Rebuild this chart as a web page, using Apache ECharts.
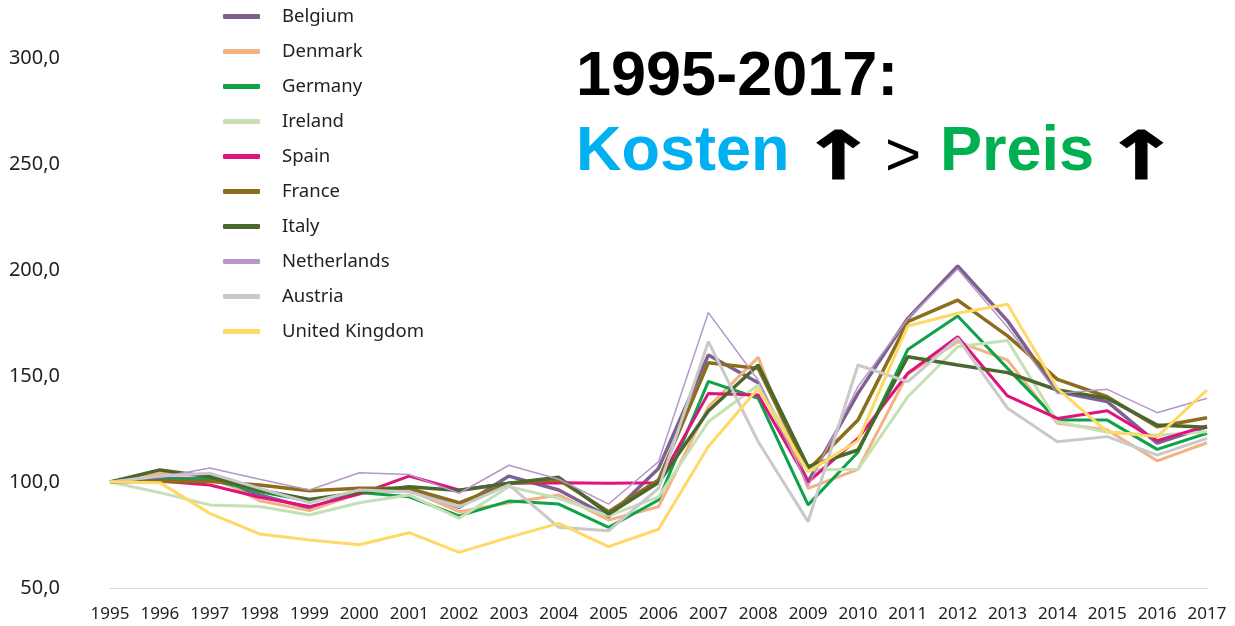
<!DOCTYPE html>
<html>
<head>
<meta charset="utf-8">
<script src="https://cdn.jsdelivr.net/npm/echarts@6/dist/echarts.min.js"></script>
<style>
html,body{margin:0;padding:0;background:#fff;}
#main{width:1235px;height:626px;}
</style>
</head>
<body>
<div id="main"></div>
<script>
const years = ['1995','1996','1997','1998','1999','2000','2001','2002','2003','2004','2005','2006','2007','2008','2009','2010','2011','2012','2013','2014','2015','2016','2017'];
const belgium     = [100, 101.7, 101.7, 93.9, 87.7, 95.5, 96.2, 88.0, 102.8, 96.2, 83.6, 106.4, 159.9, 146.8, 100.2, 141.8, 177.2, 201.9, 176.0, 142.6, 137.9, 118.3, 126.0];
const denmark     = [100, 104.1, 103.3, 91.2, 86.5, 94.7, 96.2, 86.0, 90.2, 93.9, 82.1, 88.3, 135.5, 158.8, 97.0, 106.0, 151.0, 166.2, 157.5, 127.7, 124.5, 110.0, 118.5];
const germany     = [100, 101.0, 101.3, 95.4, 91.0, 95.0, 93.0, 84.0, 91.0, 89.6, 78.6, 91.5, 147.5, 139.5, 89.2, 114.0, 162.5, 178.3, 153.6, 129.2, 129.2, 115.4, 123.0];
const ireland     = [100, 95.0, 89.2, 88.4, 84.4, 90.2, 93.9, 82.9, 97.8, 92.3, 84.0, 93.0, 128.4, 145.8, 105.7, 106.0, 140.2, 163.8, 166.7, 128.4, 123.5, 122.0, 123.7];
const spain       = [100, 100.5, 98.6, 92.8, 88.4, 94.3, 102.8, 96.2, 99.4, 99.7, 99.4, 99.7, 141.8, 141.0, 100.0, 120.6, 151.3, 168.5, 140.6, 130.0, 133.6, 119.5, 126.4];
const france      = [100, 100.2, 100.2, 98.6, 95.9, 97.0, 97.0, 90.2, 99.4, 101.0, 86.0, 101.0, 156.3, 153.6, 105.7, 129.2, 175.6, 185.8, 168.9, 148.4, 140.2, 126.1, 130.3];
const italy       = [100, 105.7, 102.5, 96.2, 91.8, 95.0, 97.8, 96.0, 99.4, 102.2, 84.9, 99.7, 133.5, 155.2, 107.2, 115.1, 159.1, 155.2, 151.6, 143.4, 139.5, 126.9, 125.8];
const netherlands = [100, 102.2, 106.6, 101.3, 96.2, 104.4, 103.5, 94.7, 107.9, 101.3, 89.6, 109.6, 179.9, 148.0, 98.0, 145.0, 177.0, 200.5, 173.0, 141.8, 143.7, 132.7, 139.5];
const austria     = [100, 102.8, 104.1, 97.0, 90.2, 96.2, 95.4, 88.3, 98.6, 78.6, 77.0, 97.0, 166.2, 119.0, 81.3, 155.2, 147.3, 167.8, 134.8, 119.0, 121.4, 112.7, 120.6];
const uk          = [100, 99.7, 85.2, 75.5, 72.6, 70.4, 76.1, 66.8, 73.9, 80.5, 69.5, 77.7, 116.7, 144.2, 104.9, 119.5, 173.6, 179.6, 183.8, 144.0, 123.7, 121.4, 143.4];

const seriesDefs = [
  {name:'Belgium', data:belgium, color:'#7d6191', width:3.5},
  {name:'Denmark', data:denmark, color:'#f4b183', width:3},
  {name:'Germany', data:germany, color:'#0ea24a', width:3},
  {name:'Ireland', data:ireland, color:'#c5e0b4', width:3},
  {name:'Spain', data:spain, color:'#e0127e', width:3},
  {name:'France', data:france, color:'#8c6d1b', width:3.5},
  {name:'Italy', data:italy, color:'#4a672c', width:3.5},
  {name:'Netherlands', data:netherlands, color:'#b597c9', width:1.5},
  {name:'Austria', data:austria, color:'#c9c9c9', width:3},
  {name:'United Kingdom', data:uk, color:'#ffd966', width:3}
];

const bigFont = 'bold 63px "Liberation Sans", Arial';
const arrowStyle = {text:'↑', font:'bold 67px "DejaVu Sans"', fill:'#000', stroke:'#000', lineWidth:1, align:'left', verticalAlign:'top'};

const chart = echarts.init(document.getElementById('main'));
chart.setOption({
  animation:false,
  backgroundColor:'#fff',
  grid:{left:110, right:28, top:58, bottom:38},
  legend:{
    orient:'vertical', left:218, top:2,
    icon:'roundRect', itemWidth:37, itemHeight:5, itemGap:16,
    textStyle:{fontFamily:'Noto Sans', fontSize:18.5, lineHeight:19, color:'#222', padding:[0,0,0,17]},
    data:seriesDefs.map(s=>({name:s.name, itemStyle:{color:s.color}}))
  },
  xAxis:{
    type:'category', data:years, boundaryGap:false,
    axisLine:{lineStyle:{color:'#d9d9d9', width:1}},
    axisTick:{show:false},
    axisLabel:{fontFamily:'Noto Sans', fontSize:17, color:'#222', margin:18, interval:0}
  },
  yAxis:{
    type:'value', min:50, max:300, interval:50,
    axisLine:{show:false}, axisTick:{show:false}, splitLine:{show:false},
    axisLabel:{fontFamily:'Noto Sans', fontSize:20, color:'#222', margin:50,
      formatter:v=>v.toFixed(1).replace('.',',')}
  },
  graphic:[
    {type:'text', x:576, y:46, style:{text:'1995-2017:', font:bigFont, fill:'#000', align:'left', verticalAlign:'top'}},
    {type:'text', x:576, y:121, style:{text:'Kosten', font:bigFont, fill:'#00b0f0', align:'left', verticalAlign:'top'}},
    {type:'text', x:799, y:128, scaleX:1.4, style:arrowStyle},
    {type:'text', x:885, y:127, style:{text:'>', font:'62px "Liberation Sans", Arial', fill:'#000', align:'left', verticalAlign:'top'}},
    {type:'text', x:940, y:121, style:{text:'Preis', font:bigFont, fill:'#00b050', align:'left', verticalAlign:'top'}},
    {type:'text', x:1102, y:128, scaleX:1.4, style:arrowStyle}
  ],
  series:seriesDefs.map(s=>({
    name:s.name, type:'line', data:s.data, showSymbol:false, symbol:'none',
    lineStyle:{color:s.color, width:s.width}, itemStyle:{color:s.color}
  }))
});
</script>
</body>
</html>
